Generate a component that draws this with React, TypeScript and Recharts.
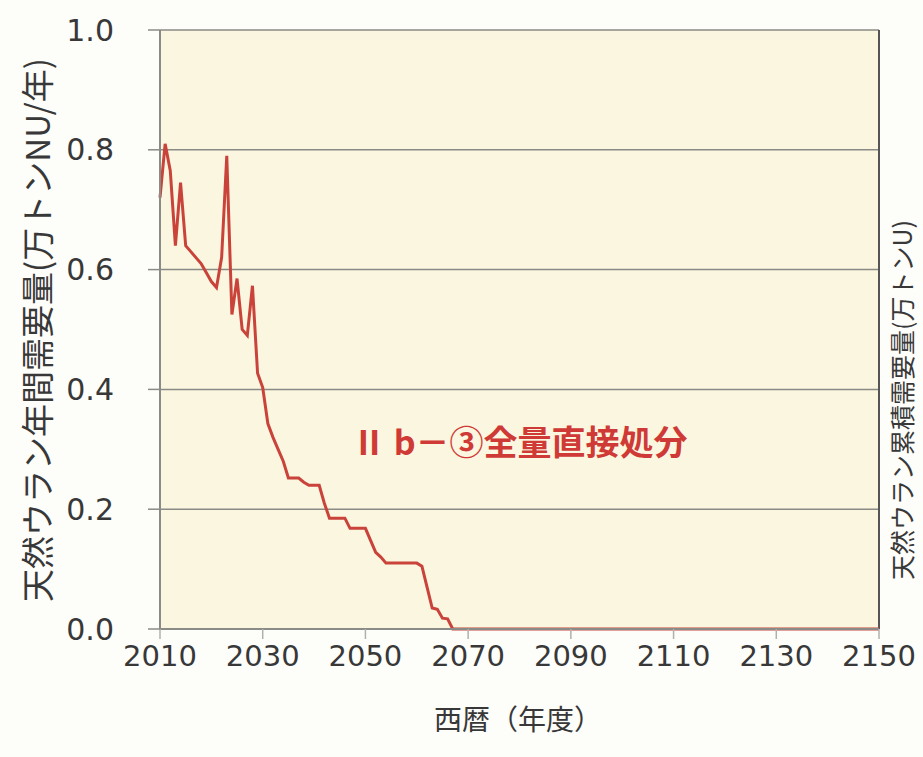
import React from "react";
import {
  LineChart, Line, XAxis, YAxis, CartesianGrid, ReferenceLine
} from "recharts";

// 年度
const years = [
  2010, 2011, 2012, 2013, 2014, 2015, 2016, 2017, 2018, 2019,
  2020, 2021, 2022, 2023, 2024, 2025, 2026, 2027, 2028, 2029,
  2030, 2031, 2032, 2033, 2034, 2035, 2036, 2037, 2038, 2039,
  2040, 2041, 2042, 2043, 2044, 2045, 2046, 2047, 2048, 2049,
  2050, 2051, 2052, 2053, 2054, 2055, 2056, 2057, 2058, 2059,
  2060, 2061, 2062, 2063, 2064, 2065, 2066, 2067, 2150,
];

// 天然ウラン年間需要量 (万トンNU/年)
const demand = [
  0.72, 0.81, 0.765, 0.64, 0.745, 0.64, 0.63, 0.62, 0.61, 0.595,
  0.58, 0.57, 0.62, 0.79, 0.525, 0.585, 0.5, 0.49, 0.573, 0.427,
  0.403, 0.343, 0.32, 0.3, 0.28, 0.252, 0.252, 0.252, 0.245, 0.24,
  0.24, 0.24, 0.21, 0.185, 0.185, 0.185, 0.185, 0.168, 0.168, 0.168,
  0.168, 0.148, 0.128, 0.12, 0.11, 0.11, 0.11, 0.11, 0.11, 0.11,
  0.11, 0.105, 0.07, 0.035, 0.033, 0.018, 0.017, 0, 0,
];

const xTicks = [2010, 2030, 2050, 2070, 2090, 2110, 2130, 2150];
const yTicks = [0, 0.2, 0.4, 0.6, 0.8, 1.0];

const data = years.map((y, i) => ({ year: y, value: demand[i] }));

const numFont = "'DejaVu Sans', sans-serif";
const jpFont = "'Noto Sans CJK JP', sans-serif";

// 下から上へ読む縦書きタイトル
const vertical: React.CSSProperties = {
  position: "absolute",
  writingMode: "vertical-rl",
  textOrientation: "sideways",
  transform: "translate(-50%, -50%) rotate(180deg)",
  color: "#383838",
  fontFamily: jpFont,
  whiteSpace: "nowrap",
};

export default function App() {
  return (
    <div style={{ position: "absolute", left: 0, top: 0, width: 923, height: 757, background: "#fdfdfa", overflow: "hidden" }}>
      <LineChart width={923} height={757} data={data} margin={{ top: 30, right: 44, bottom: 0, left: 0 }}>
        <CartesianGrid horizontal vertical={false} stroke="#8a8a86" strokeWidth={1.5} fill="#fbf6df" fillOpacity={1} />
        <XAxis
          dataKey="year" type="number" domain={[2010, 2150]} ticks={xTicks}
          axisLine={{ stroke: "#8a8a86", strokeWidth: 2 }}
          tickLine={{ stroke: "#b0b0ac", strokeWidth: 1.5 }} tickSize={10} tickMargin={6}
          tick={{ fontSize: 29, fill: "#383838", fontFamily: numFont }}
          height={128} interval={0}
        />
        <YAxis
          type="number" domain={[0, 1]} ticks={yTicks}
          tickFormatter={(v: number) => v.toFixed(1)}
          axisLine={{ stroke: "#8a8a86", strokeWidth: 2 }}
          tickLine={{ stroke: "#8a8a86", strokeWidth: 1.5 }} tickSize={12} tickMargin={34}
          tick={{ fontSize: 30, fill: "#383838", fontFamily: numFont }}
          width={160} interval={0}
        />
        <ReferenceLine x={2150} stroke="#555" strokeWidth={2} />
        <Line
          type="linear" dataKey="value" stroke="#c9433b" strokeWidth={3}
          dot={false} activeDot={false} isAnimationActive={false}
        />
      </LineChart>

      {/* 系列名 */}
      <div style={{ position: "absolute", left: 352, top: 420, fontSize: 34, fontWeight: 700, color: "#cf3a36", fontFamily: jpFont, whiteSpace: "nowrap", lineHeight: "42px" }}>
        Ⅱ b－③全量直接処分
      </div>

      {/* Y軸タイトル */}
      <div style={{ ...vertical, left: 36, top: 330, fontSize: 33, lineHeight: "38px" }}>
        天然ウラン年間需要量(万トンNU/年)
      </div>

      {/* X軸タイトル */}
      <div style={{ position: "absolute", left: 518, top: 718, transform: "translate(-50%, -50%)", fontSize: 28, color: "#383838", fontFamily: jpFont, whiteSpace: "nowrap", lineHeight: "34px" }}>
        西暦（年度）
      </div>

      {/* 隣のグラフの軸タイトル */}
      <div style={{ ...vertical, left: 901, top: 400, fontSize: 25, lineHeight: "28px" }}>
        天然ウラン累積需要量(万トンU)
      </div>
    </div>
  );
}
